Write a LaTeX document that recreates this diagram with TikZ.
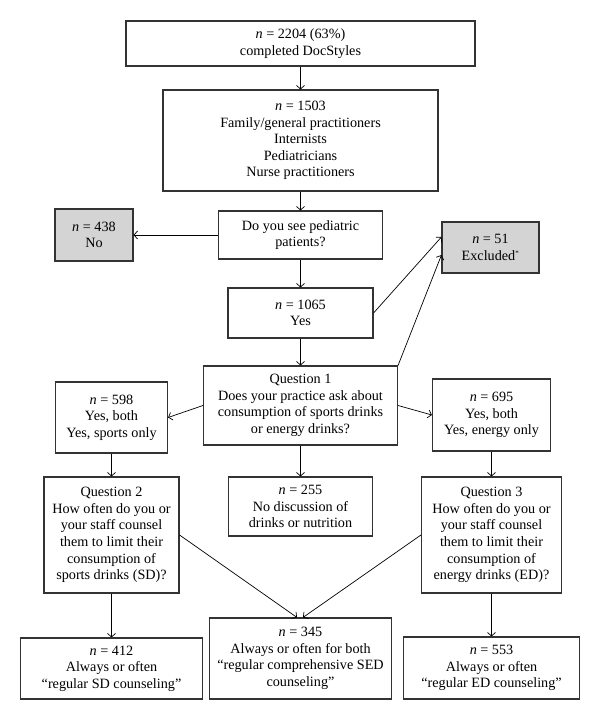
\documentclass[tikz,border=0pt]{standalone}
\usepackage{fontspec}
\setmainfont{Liberation Serif}
\usepackage{tikz}
\usetikzlibrary{arrows.meta}

\begin{document}
\begin{tikzpicture}[x=1pt, y=-1pt,
  box/.style={draw=black!80, line width=1.1pt, fill=white, align=center, inner sep=0pt,
    font=\fontsize{14.2}{16.6}\selectfont},
  gbox/.style={box, fill=black!17},
  arr/.style={-{Straight Barb[length=3.5pt, width=8pt]}, line width=0.7pt}]
  \useasboundingbox (0,0) rectangle (600,720);
  \node[box, minimum width=349pt, minimum height=45pt] (top) at (300.5,43.5) {\textit{n} = 2204 (63\%)\\completed DocStyles};
  \node[box, minimum width=275pt, minimum height=101pt] (grp) at (300.5,140.5) {\textit{n} = 1503\\Family/general practitioners\\Internists\\Pediatricians\\Nurse practitioners};
  \node[box, minimum width=164pt, minimum height=48pt] (ped) at (300.5,235) {Do you see pediatric\\patients?};
  \node[gbox, minimum width=78pt, minimum height=52pt] (no) at (94,235) {\textit{n} = 438\\No};
  \node[gbox, minimum width=97pt, minimum height=51pt] (excl) at (490.5,247.5) {\textit{n} = 51\\Excluded\textsuperscript{\scriptsize *}};
  \node[box, minimum width=145pt, minimum height=50pt] (yes) at (300.5,313) {\textit{n} = 1065\\Yes};
  \node[box, minimum width=194pt, minimum height=79pt] (q1) at (300.5,405.5) {Question 1\\Does your practice ask about\\consumption of sports drinks\\or energy drinks?};
  \node[box, minimum width=112pt, minimum height=71pt] (sp) at (111.5,417.5) {\textit{n} = 598\\Yes, both\\Yes, sports only};
  \node[box, minimum width=118pt, minimum height=72pt] (en) at (491.5,415) {\textit{n} = 695\\Yes, both\\Yes, energy only};
  \node[box, minimum width=144pt, minimum height=59pt] (nd) at (300.5,506.5) {\textit{n} = 255\\No discussion of\\drinks or nutrition};
  \node[box, minimum width=135pt, minimum height=116pt] (q2) at (111.5,535) {Question 2\\How often do you or\\your staff counsel\\them to limit their\\consumption of\\sports drinks (SD)?};
  \node[box, minimum width=140pt, minimum height=116pt] (q3) at (491.5,535) {Question 3\\How often do you or\\your staff counsel\\them to limit their\\consumption of\\energy drinks (ED)?};
  \node[box, minimum width=182pt, minimum height=61pt] (sd) at (111.5,668.5) {\textit{n} = 412\\Always or often\\``regular SD counseling''};
  \node[box, minimum width=182pt, minimum height=81pt] (both) at (300.5,658.5) {\textit{n} = 345\\Always or often for both\\``regular comprehensive SED\\counseling''};
  \node[box, minimum width=176pt, minimum height=62pt] (ed) at (491.5,668) {\textit{n} = 553\\Always or often\\``regular ED counseling''};
  % main column
  \draw[arr] (top) -- (grp);
  \draw[arr] (grp) -- (ped);
  \draw[arr] (ped) -- (no);
  \draw[arr] (ped) -- (yes);
  \draw[arr] (yes.east) -- ([yshift=10.5pt]excl.west);
  \draw[arr] (q1.north east) -- ([yshift=-7.5pt]excl.west);
  \draw[arr] (yes) -- (q1);
  \draw[arr] (q1.west) -- (sp.east);
  \draw[arr] (q1.east) -- (en.west);
  \draw[arr] (q1) -- (nd);
  % side columns
  \draw[arr] (sp) -- (q2);
  \draw[arr] (en) -- (q3);
  \draw[arr] (q2) -- (sd);
  \draw[arr] (q3) -- (ed);
  \draw[arr] (q2.east) -- ([xshift=-3.5pt]both.north);
  \draw[arr] (q3.west) -- ([xshift=2.5pt]both.north);
\end{tikzpicture}
\end{document}
